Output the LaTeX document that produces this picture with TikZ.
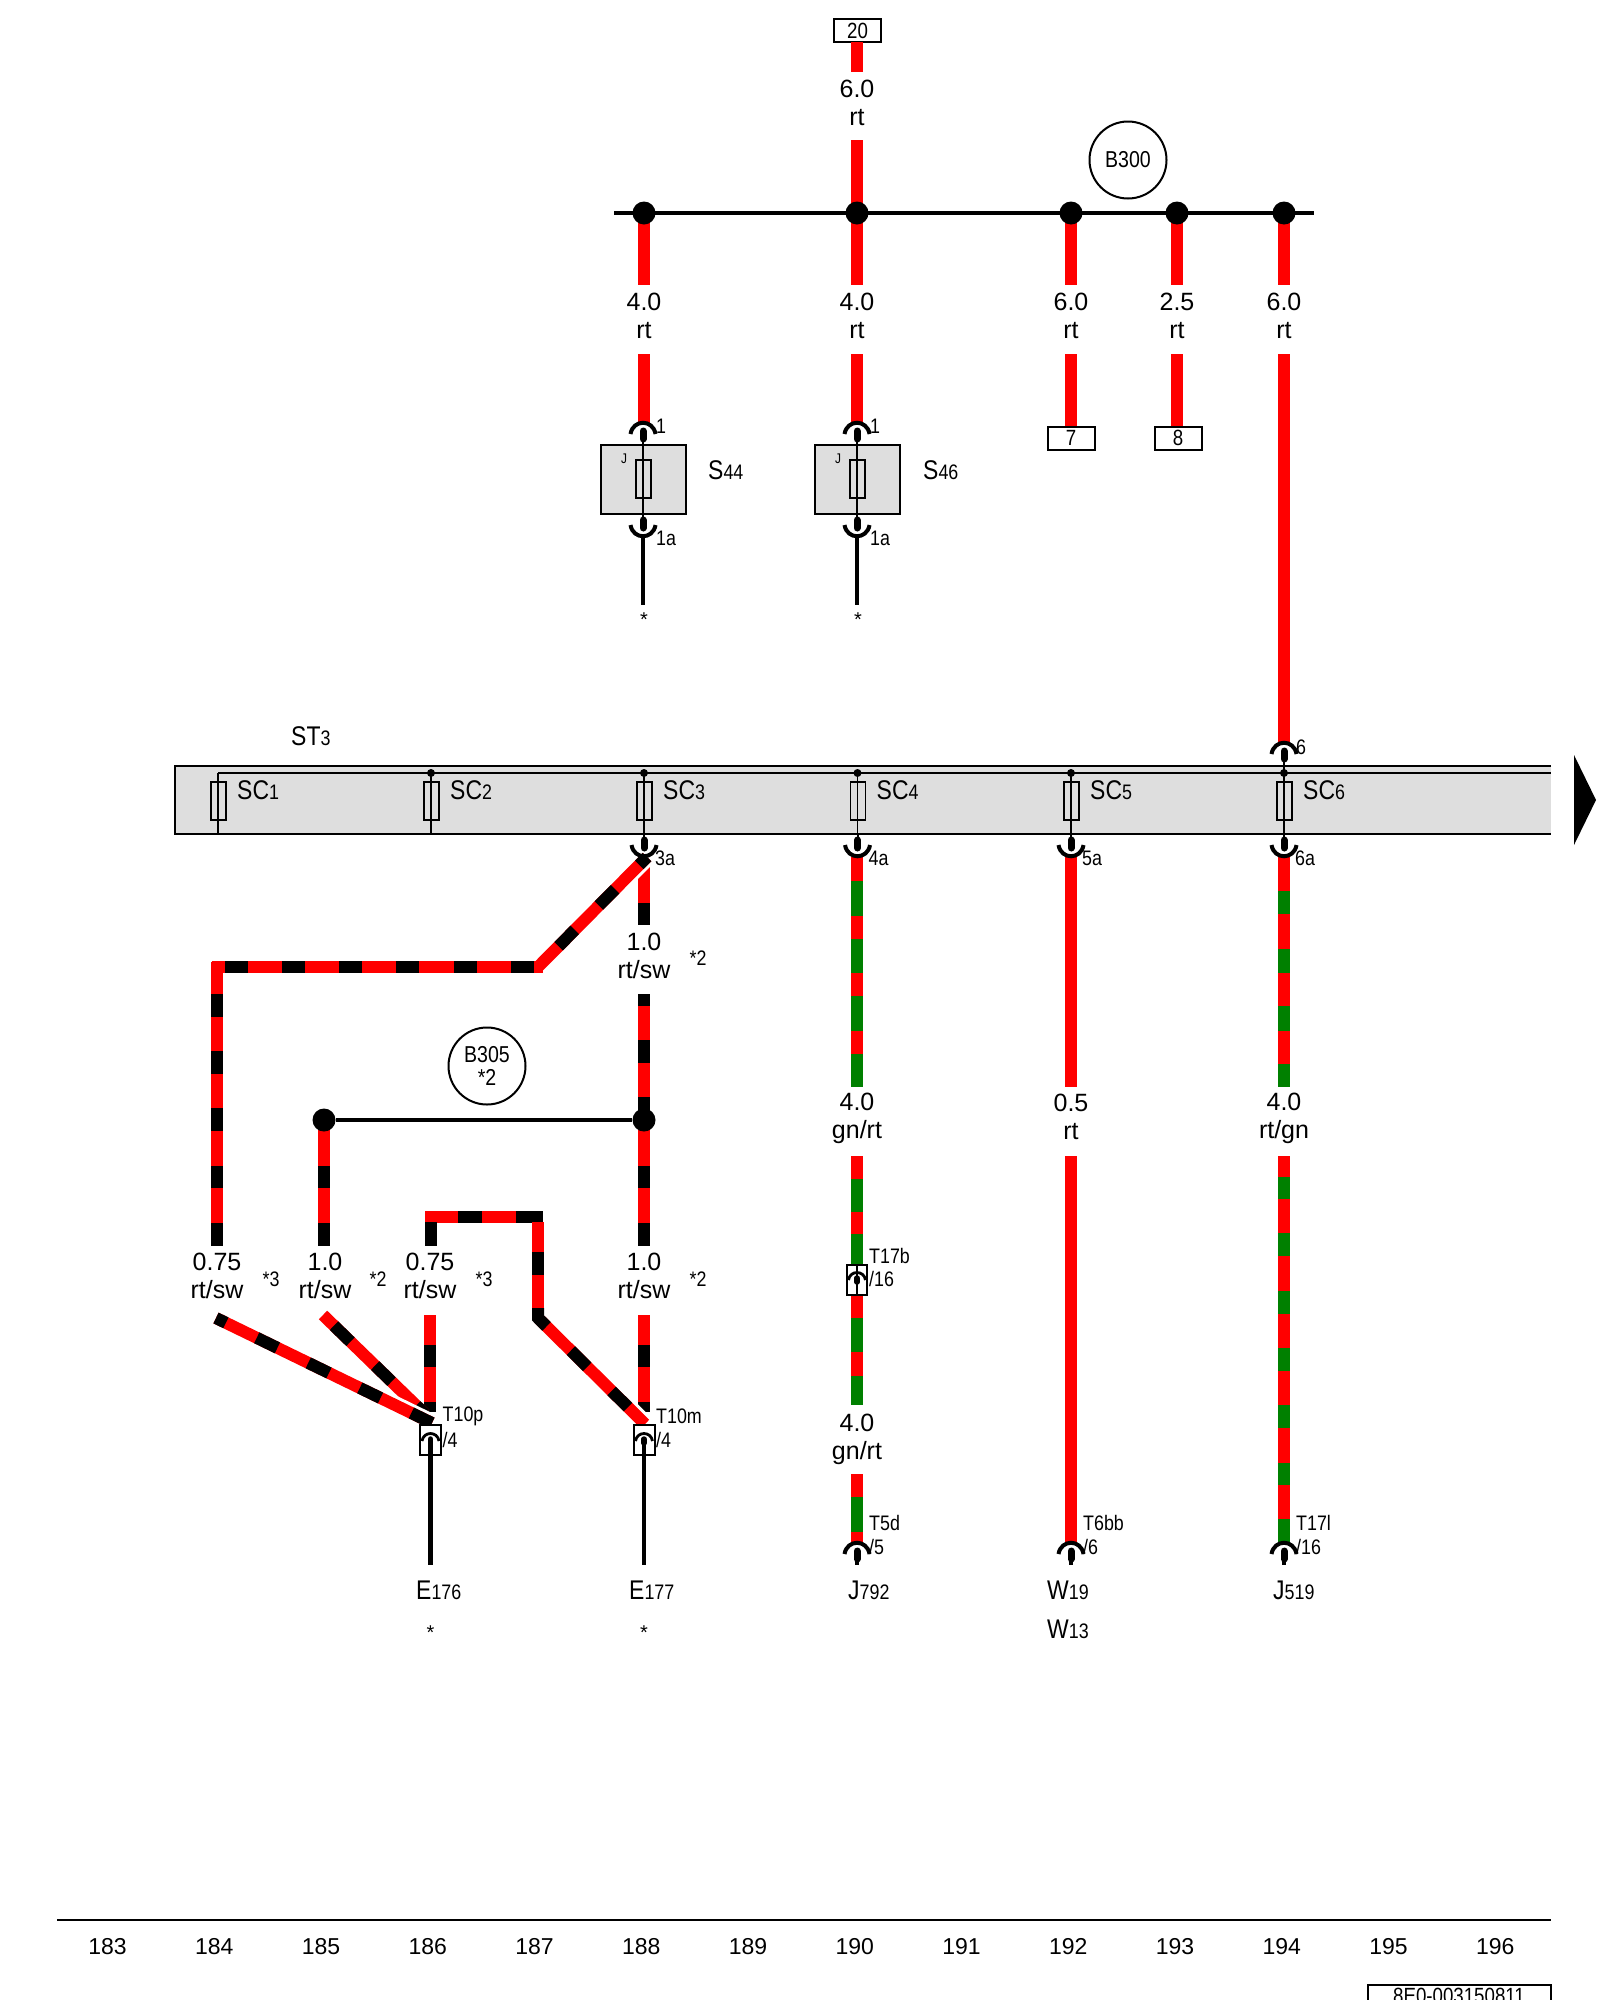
\documentclass[tikz,border=0pt]{standalone}
\usepackage{fontspec}
\usetikzlibrary{calc}
\setmainfont{Liberation Sans}
\newfontfamily\cond[FakeStretch=0.85]{Liberation Sans}
\definecolor{wred}{RGB}{255,0,0}
\definecolor{wgrn}{RGB}{0,128,0}
\definecolor{strip}{RGB}{222,222,222}
\tikzset{
  wr/.style={line width=12,line cap=butt},
  rdw/.style={wr,wred},
  bkw/.style={wr,black},
  gnw/.style={wr,wgrn},
  halo/.style={line width=18,white},
  bus/.style={line width=3.2,black},
  thin/.style={line width=1.6,black},
  tail/.style={line width=4.5,black},
  busdot/.style={circle,fill=black,inner sep=0,minimum size=23},
  smalldot/.style={circle,fill=black,inner sep=0,minimum size=8},
  lab/.style={font=\fontsize{25}{28}\selectfont,align=center,inner sep=0},
  term/.style={font=\cond\fontsize{21}{24}\selectfont,anchor=west,inner sep=0},
  note/.style={font=\cond\fontsize{21}{24}\selectfont,inner sep=0},
  star/.style={font=\fontsize{20}{22}\selectfont,inner sep=0},
  cpt/.style={anchor=base west,inner sep=0},
  pinbox/.style={draw=black,line width=2,fill=white,inner sep=0,font=\cond\fontsize{22}{24}\selectfont},
  ringn/.style={draw=black,line width=2,circle,minimum size=77,inner sep=0,align=center,font=\cond\fontsize{23}{23}\selectfont},
  nums/.style={font=\fontsize{23}{26}\selectfont,inner sep=0},
  fuse/.style={line width=1.4,black},
  conup/.pic={\draw[line width=4,black](-12.5,12) .. controls (-10,-3) and (10,-3) .. (12.5,12);
              \draw[line width=7,line cap=round,black](0,9)--(0,17);},
  condn/.pic={\draw[line width=4,black](-12.5,-12) .. controls (-10,3) and (10,3) .. (12.5,-12);
              \draw[line width=7,line cap=round,black](0,-9)--(0,-17);},
  consm/.pic={\draw[line width=2.8,black](-8.5,8) .. controls (-7,-2) and (7,-2) .. (8.5,8);
              \draw[line width=5.5,line cap=round,black](0,6)--(0,10);}
}
\newcommand\cp[2]{{\cond\fontsize{27}{30}\selectfont #1\fontsize{21}{24}\selectfont #2}}
% name, x, y1, y2: plain red wire
\newcommand\plain[4]{\coordinate (#1a) at (#2,#3);\coordinate (#1b) at (#2,#4);\draw[rdw] (#1a)--(#1b);}
% name, x, y1, y2, stripe style, list of stripes
\newcommand\stripe[6]{\coordinate (#1a) at (#2,#3);\coordinate (#1b) at (#2,#4);\draw[rdw] (#1a)--(#1b);
  \foreach \p/\q in {#6}{\draw[#5] (#2,\p)--(#2,\q);}}
\begin{document}
\begin{tikzpicture}[x=1pt,y=-1pt]
\clip (0,0) rectangle (1600,2000);
\fill[white] (0,0) rectangle (1600,2000);

% ---------- top supply
\node[pinbox,minimum width=47,minimum height=23] (k20) at (857.5,30.5) {20};
\coordinate (w20a) at (857,42);\coordinate (w20b) at (857,72);
\draw[rdw] (w20a)--(w20b);
\node[lab] (l20) at (857,103) {6.0\\rt};
\plain{w21}{857}{140}{213}

% ---------- bus branches
\plain{wA}{644}{213}{285}\plain{wB}{857}{213}{285}\plain{wC}{1071}{213}{285}\plain{wD}{1177}{213}{285}\plain{wE}{1284}{213}{285}
\node[lab] (lA) at (644,316) {4.0\\rt};
\node[lab] (lB) at (857,316) {4.0\\rt};
\node[lab] (lC) at (1071,316) {6.0\\rt};
\node[lab] (lD) at (1177,316) {2.5\\rt};
\node[lab] (lE) at (1284,316) {6.0\\rt};
\plain{wA2}{644}{354}{425}\plain{wB2}{857}{354}{425}\plain{wC2}{1071}{354}{428}\plain{wD2}{1177}{354}{428}\plain{wE2}{1284}{354}{745}
\node[pinbox,minimum width=47,minimum height=23] (k7) at (1071,438) {7};
\node[pinbox,minimum width=47,minimum height=23] (k8) at (1178,438) {8};

\node[busdot] (d1) at (644,213) {};
\node[busdot] (d2) at (857,213) {};
\node[busdot] (d3) at (1071,213) {};
\node[busdot] (d4) at (1177,213) {};
\node[busdot] (d5) at (1284,213) {};
\coordinate (busL) at (614,213);\coordinate (busR) at (1314,213);
\draw[bus] (busL)--(busR);
\node[ringn] (B300) at (1128,160) {B300};

% ---------- fuses S44 / S46
\foreach \x/\n in {643/44,857/46}{
  \node[draw=black,line width=2,fill=strip,minimum width=85,minimum height=69,inner sep=0] (s\n) at (\x,479.5) {};
  \draw[fuse,line width=1.8] (\x-7,460) rectangle (\x+8,498);
  \draw[thin] (\x,440)--(\x,525);
  \pic at (\x,422) {conup};
  \pic at (\x,537) {condn};
  \coordinate (s\n e) at (\x,605);
  \draw[tail] (\x,537)--(s\n e);
  \node[star] (st\n) at (\x+1,620) {*};
  \node[term] (t\n a) at (\x+13,426) {1};
  \node[term] (t\n b) at (\x+13,538) {1a};
  \node[note,font=\cond\fontsize{14}{16}\selectfont] (j\n) at (\x-19,459) {J};
}
\node[cpt] (S44) at (708,479) {\cp{S}{44}};
\node[cpt] (S46) at (923,479) {\cp{S}{46}};

% ---------- strip ST3
\node[cpt] (ST3) at (291,745) {\cp{ST}{3}};
\fill[strip] (175,766) rectangle (1551,834);
\draw[line width=2.4,black] (1551,766)--(175,766)--(175,834)--(1551,834);
\draw[thin] (218,773)--(1551,773);
\foreach \x/\i in {218/1,431/2,644/3,857.5/4,1071/5,1284/6}{
  \draw[fuse] (\x-7,782) rectangle (\x+8,820);
  \draw[thin] (\x,773)--(\x,834);
  \node[cpt] (sc\i) at (\x+19,799) {\cp{SC}{\i}};
}
\foreach \x/\i in {431/2,644/3,857.5/4,1071/5,1284/6}{\node[smalldot] (n\i) at (\x,773) {};}
\coordinate (tri) at (1596,800);
\fill[black] (1574,755)--(tri)--(1574,845)--cycle;
\draw[thin,line width=2] (1284,760)--(1284,773);
\foreach \x in {644,857.5,1071,1284}{\draw[thin,line width=2] (\x,834)--(\x,842);}

% ---------- column SC3: red/black
\stripe{wF}{644}{867}{925}{bkw}{903/925}
\coordinate (dgA) at (647,857);\coordinate (dgB) at (538,967);\coordinate (hzL) at (211.5,967);\coordinate (hzR) at (543,967);
\draw[halo] (dgA)--($(dgA)!0.25!(dgB)$);
\draw[rdw] (hzL)--(hzR);
\draw[rdw] (dgB)--(dgA);
\draw[bkw,dash pattern=on 23pt off 34.3pt,dash phase=12pt] (dgA)--(dgB);
\foreach \p/\q in {225/248,282/305,339/362,396/419,454/477,511/534}{\draw[bkw] (\p,967)--(\q,967);}
\stripe{wG}{217}{962}{1246}{bkw}{994/1017,1051/1074,1108/1131,1166/1188,1223/1246}
\node[lab] (lF) at (644,956) {1.0\\rt/sw};
\node[note] (nF) at (698,958) {*2};
\stripe{wH}{644}{994}{1246}{bkw}{994/1006,1040/1063,1097/1120,1166/1188,1223/1246}
\stripe{wI}{324}{1120}{1246}{bkw}{1166/1188,1223/1246}
\node[busdot] (d6) at (324,1120) {};
\node[busdot] (d7) at (644,1120) {};
\draw[bus] (d6)--(d7);
\node[ringn] (B305) at (487,1066) {B305\\*2};

% upper loop
\coordinate (loA) at (425,1216.5);\coordinate (loB) at (543,1216.5);
\draw[rdw] (loA)--(loB);
\foreach \p/\q in {458/482,516/543}{\draw[bkw] (\p,1216.5)--(\q,1216.5);}
\stripe{wJ}{430.5}{1216}{1246}{bkw}{1222/1246}
\stripe{wK}{538}{1222}{1318}{bkw}{1252/1275,1310/1318}

% labels row
\node[lab] (l1) at (217,1276) {0.75\\rt/sw};
\node[lab] (l2) at (325,1276) {1.0\\rt/sw};
\node[lab] (l3) at (430,1276) {0.75\\rt/sw};
\node[lab] (l4) at (644,1276) {1.0\\rt/sw};
\node[note] (n1) at (271,1279) {*3};
\node[note] (n2) at (378,1279) {*2};
\node[note] (n3) at (484,1279) {*3};
\node[note] (n4) at (698,1279) {*2};

% lower wires
\stripe{wL}{430}{1315}{1412}{bkw}{1345/1367,1402/1412}
\stripe{wM}{644}{1315}{1412}{bkw}{1345/1367,1402/1412}
\coordinate (faA) at (323,1315);\coordinate (faB) at (425,1414);
\draw[rdw] (faA)--(faB);
\draw[bkw,dash pattern=on 23pt off 34.3pt,dash phase=42pt] (faA)--(faB);
\coordinate (fbA) at (216,1318);\coordinate (fbB) at (432,1423);
\draw[halo] ($(fbA)!0.75!(fbB)$)--(fbB);
\draw[rdw] (fbA)--(fbB);
\draw[bkw,dash pattern=on 23pt off 34.3pt,dash phase=12pt] (fbA)--(fbB);
\coordinate (fcA) at (538,1318);\coordinate (fcB) at (645,1424);
\draw[halo] ($(fcA)!0.7!(fcB)$)--(fcB);
\draw[rdw] (fcA)--(fcB);
\draw[bkw,dash pattern=on 23pt off 34.3pt,dash phase=11pt] (fcA)--(fcB);
\draw[bkw,line join=miter] (538,1308)--(538,1318)--(546,1326);

% T10 connectors
\foreach \x/\w/\cl/\cn/\lx in {430.5/T10p/E/176/416,644/T10m/E/177/629}{
  \draw[line width=2,black,fill=white] (\x-10.5,1425) rectangle (\x+10.5,1455);
  \pic at (\x,1433) {consm};
  \draw[tail] (\x,1440)--(\x,1565);
  \node[term] at (\x+12,1416) {\w};
  \node[term] at (\x+12,1440) {/4};
  \node[cpt] at (\lx,1599) {\cp{\cl}{\cn}};
  \node[star] at (\x,1633) {*};
}

% ---------- column SC4 gn/rt
\stripe{wN}{857}{857}{1087}{gnw}{881/916,939/973,996/1031,1054/1087}
\node[lab] (lN) at (857,1118) {4.0\\gn/rt};
\stripe{wO}{857}{1156}{1265}{gnw}{1179/1212,1234/1265}
\stripe{wP}{857}{1295}{1405}{gnw}{1318/1352,1376/1405}
\node[lab] (lP) at (857,1439) {4.0\\gn/rt};
\stripe{wQ}{857}{1474}{1545}{gnw}{1497/1532}
\node[draw=black,line width=2,fill=white,minimum width=20,minimum height=30,inner sep=0] (T17b) at (857,1280) {};
\draw[line width=1.6,black] (857,1265)--(857,1295);
\pic at (857,1272) {consm};
\node[term] at (869,1256) {T17b};
\node[term] at (869,1279) {/16};

% ---------- column SC5 rt
\plain{wR}{1071}{857}{1087}
\node[lab] (lR) at (1071,1117) {0.5\\rt};
\plain{wS}{1071}{1156}{1545}

% ---------- column SC6 rt/gn
\stripe{wT}{1284}{857}{1087}{gnw}{891/914,949/973,1006/1031,1064/1087}
\node[lab] (lT) at (1284,1118) {4.0\\rt/gn};
\stripe{wU}{1284}{1156}{1545}{gnw}{1177/1199,1233/1256,1291/1314,1348/1371,1405/1428,1463/1485,1519/1545}

% connectors on strip
\pic at (1284,742) {conup};
\node[term] at (1296,747) {6};
\foreach \x/\l in {644/3a,857.5/4a,1071/5a,1284/6a}{
  \pic at (\x,857) {condn};
  \node[term] at (\x+11,858) {\l};
}

% end connectors
\foreach \x/\a/\b in {857/T5d/5,1071/T6bb/6,1284/T17l/16}{
  \pic at (\x,1542) {conup};
  \draw[tail] (\x,1556)--(\x,1565);
  \node[term] at (\x+12,1523) {\a};
  \node[term] at (\x+12,1547) {/\b};
}
\node[cpt] at (848,1599) {\cp{J}{792}};
\node[cpt] at (1047,1599) {\cp{W}{19}};
\node[cpt] at (1047,1638) {\cp{W}{13}};
\node[cpt] at (1273,1599) {\cp{J}{519}};

% ---------- footer
\coordinate (fL) at (57,1920);\coordinate (fR) at (1551,1920);
\draw[line width=2.4,black] (fL)--(fR);
\foreach \k [evaluate=\k as \xx using 107.5+106.75*(\k-183)] in {183,...,196}{
  \node[nums] at (\xx,1947) {\pgfmathtruncatemacro\kk{\k}\kk};
}
\draw[line width=2.4,black] (1368,2010)--(1368,1985)--(1551,1985)--(1551,2010);
\node[anchor=base,inner sep=0,font=\cond\fontsize{22}{24}\selectfont] (stamp) at (1459,2003) {8E0-003150811};
\end{tikzpicture}
\end{document}
